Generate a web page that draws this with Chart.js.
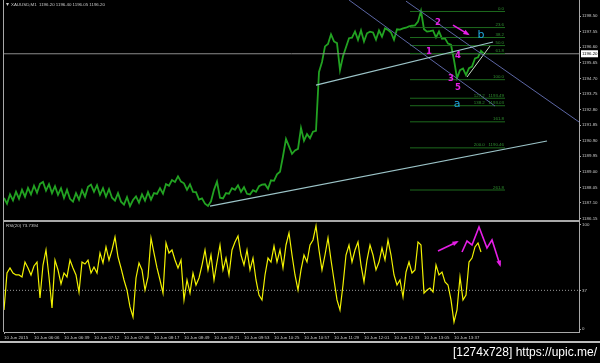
<!DOCTYPE html>
<html lang="en">
<head>
<meta charset="UTF-8">
<title>XAUUSD,M1</title>
<script src="https://cdn.jsdelivr.net/npm/chart.js"></script>
<style>
  body { margin: 0; background: #000; }
  #wrap { position: relative; width: 600px; height: 363px; overflow: hidden; background: #000; }
  #wrap canvas { position: absolute; left: 0; }
  #mainChart { top: 0; }
  #rsiChart { top: 222px; }
  .rule { position: absolute; background: #a8a8a8; }
  #stamp { position: absolute; right: 3px; top: 345px; color: #fff; font: 12px 'Liberation Sans', sans-serif; white-space: nowrap; }
</style>
</head>
<body>
<div id="wrap">
  <canvas id="mainChart" width="600" height="220"></canvas>
  <canvas id="rsiChart" width="600" height="120"></canvas>
  <div class="rule" style="left:3px;top:0;width:1px;height:332px"></div>
  <div class="rule" style="left:3px;top:220px;width:577px;height:2px"></div>
  <div class="rule" style="left:0;top:341px;width:600px;height:2px;background:#bdbdbd"></div>
  <div id="stamp">[1274x728] https://upic.me/</div>
</div>
<script>
// time axis, one label every 30 bar slots
const timeLabels = ['10 Jun 2015', '10 Jun 06:06', '10 Jun 06:39', '10 Jun 07:12', '10 Jun 07:46', '10 Jun 08:17',
  '10 Jun 08:49', '10 Jun 09:21', '10 Jun 09:53', '10 Jun 10:25', '10 Jun 10:57', '10 Jun 11:29',
  '10 Jun 12:01', '10 Jun 12:33', '10 Jun 13:05', '10 Jun 13:37'];
const timeStep = 30;

const priceTicks = [1186.15, 1187.10, 1188.05, 1189.00, 1189.95, 1190.90, 1191.85, 1192.80,
  1193.75, 1194.70, 1195.65, 1196.60, 1197.55, 1198.50];

// close price, one reading every 3 slots
const sampleStep = 3;
const closePrice = [
  1187.40, 1187.05, 1187.62, 1187.25, 1187.78, 1187.36, 1187.90, 1187.48, 1188.02, 1187.62,
  1188.15, 1187.72, 1188.26, 1188.38, 1187.85, 1188.25, 1187.70, 1188.12, 1187.60, 1188.00,
  1187.40, 1187.90, 1187.35, 1187.18, 1187.70, 1187.30, 1187.88, 1187.48, 1188.08, 1188.22,
  1187.78, 1188.18, 1187.60, 1188.00, 1187.48, 1187.95, 1187.42, 1187.24, 1187.70, 1187.18,
  1187.00, 1187.45, 1186.90, 1187.28, 1187.50, 1187.12, 1187.62, 1187.24, 1187.76, 1187.30,
  1187.70, 1187.65, 1188.00, 1187.66, 1188.25, 1188.15, 1188.50, 1188.38, 1188.72, 1188.40,
  1188.30, 1187.90, 1188.24, 1187.78, 1187.76, 1187.30, 1187.38, 1187.06, 1186.92, 1187.20,
  1187.90, 1188.40, 1187.42, 1187.38, 1187.70, 1187.66, 1188.00, 1187.90, 1188.18, 1187.78,
  1188.06, 1187.66, 1187.62, 1187.88, 1187.78, 1188.12, 1188.22, 1188.24, 1187.96, 1188.48,
  1188.45, 1188.85, 1189.00, 1189.95, 1191.00, 1190.55, 1190.10, 1190.30, 1190.40, 1191.67,
  1190.90, 1191.30, 1191.05, 1191.45, 1191.50, 1195.09, 1195.70, 1196.65, 1196.80, 1197.38,
  1196.95, 1196.85, 1195.21, 1196.05, 1196.60, 1197.15, 1197.18, 1197.56, 1197.05, 1197.62,
  1196.95, 1197.45, 1197.55, 1197.50, 1197.06, 1197.62, 1197.24, 1197.75, 1197.66, 1197.50,
  1197.06, 1197.69, 1197.67, 1197.75, 1197.79, 1197.87, 1197.91, 1197.93, 1198.16, 1198.81,
  1197.70, 1197.55, 1197.58, 1197.62, 1197.20, 1197.56, 1197.12, 1197.14, 1196.82, 1196.75,
  1195.82, 1194.72, 1195.20, 1195.30, 1194.90, 1195.32, 1195.42, 1195.92, 1195.98, 1196.38,
  1196.20
];
const lastPrice = 1196.20;

const rsiValues = [
  18.2, 53.6, 58.4, 53.6, 51.7, 51.7, 49.8, 64.1, 58.4, 51.7,
  60.3, 64.1, 29.7, 61.2, 75.6, 49.8, 20.1, 66.0, 56.5, 43.1,
  53.6, 49.8, 66.0, 58.4, 51.7, 35.4, 64.1, 62.2, 66.0, 53.6,
  59.3, 53.6, 72.7, 63.2, 78.5, 66.0, 75.6, 88.0, 68.9, 58.4,
  46.9, 37.3, 21.1, 11.5, 48.8, 63.2, 56.5, 37.3, 49.8, 87.1,
  72.7, 58.4, 46.9, 34.4, 82.3, 72.7, 75.6, 66.0, 58.4, 66.0,
  27.8, 46.9, 34.4, 53.6, 42.1, 48.8, 61.2, 75.6, 56.5, 70.8,
  46.9, 64.1, 80.4, 56.5, 67.9, 51.7, 75.6, 83.3, 89.0, 70.8,
  61.2, 75.6, 56.5, 67.9, 46.9, 32.5, 27.8, 51.7, 67.9, 64.1,
  79.4, 64.1, 75.6, 58.4, 80.4, 91.9, 70.8, 51.7, 37.3, 56.5,
  70.8, 64.1, 80.4, 85.2, 98.6, 75.6, 56.5, 70.8, 87.1, 66.0,
  46.9, 27.8, 18.2, 42.1, 70.8, 80.4, 64.1, 75.6, 83.3, 61.2,
  45.0, 66.0, 80.4, 70.8, 56.5, 64.1, 77.5, 66.0, 85.2, 70.8,
  51.7, 42.1, 46.9, 30.6, 54.5, 64.1, 53.6, 56.5, 83.3, 80.4,
  34.4, 37.3, 39.2, 35.4, 61.2, 51.7, 54.5, 45.0, 42.1, 27.8,
  6.7, 18.2, 49.8, 27.8, 32.5, 64.1, 67.9, 78.5, 82.3, 73.7
];
const rsiTicks = [0, 37, 100];
const rsiLevel = 37;
const rsiLast = 73.7394;

// fibonacci expansion
const fibHigh = 1198.78;
const fibLow = 1194.62;
const fibLevels = [0, 23.6, 38.2, 50, 61.8, 100, 127.2, 138.2, 161.8, 200, 261.8];
const fibPriced = [127.2, 138.2, 200];
const fibSpan = [406, 501];

// drawn objects, [slot, price]
const supportLine = [[206, 1186.91], [543, 1190.88]];
const neckLine = [[312, 1194.29], [489, 1196.92]];
const channelTop = [[402, 1199.41], [575, 1192.04]];
const channelBottom = [[345, 1199.48], [491, 1193.01]];
const waveFive = [[463, 1194.78], [486, 1196.67]];
const waveLabels = [['1', 425, 1196.31], ['2', 434, 1198.07], ['3', 447, 1194.66], ['4', 454, 1196.06], ['5', 454, 1194.11]];
const abLabels = [['a', 453, 1193.13], ['b', 477, 1197.34]];
const priceArrow = [[449, 1197.95], [464, 1197.40]];
const rsiArrow = [[434, 74.6], [453, 83.3]];
const rsiZigzag = [[458, 73.7], [463, 84.2], [468, 80.4], [475, 97.6], [483, 77.5], [488, 85.2], [496, 61.2]];

const SLOTS = 575;
const GRAY = '#a8a8a8';
const TEXT = '#c8c8c8';
const MAGENTA = '#e61ee6';
const tiny = { family: 'Liberation Sans', size: 4.4 };

function pts(pairs) { return pairs.map(([x, y]) => ({ x, y })); }
function seg(pairs, color, width, extra) {
  return Object.assign({ data: pts(pairs), borderColor: color, borderWidth: width, pointRadius: 0, order: 0 }, extra || {});
}
function fibPrice(l) { return fibHigh - (fibHigh - fibLow) * l / 100; }

function arrow(ctx, xs, ys, pairs, color) {
  const p = pairs.map(([a, b]) => [xs.getPixelForValue(a), ys.getPixelForValue(b)]);
  ctx.strokeStyle = color; ctx.fillStyle = color; ctx.lineWidth = 1.6;
  ctx.beginPath();
  p.forEach(([a, b], i) => i ? ctx.lineTo(a, b) : ctx.moveTo(a, b));
  ctx.stroke();
  const [x1, y1] = p[p.length - 2], [x2, y2] = p[p.length - 1];
  const ang = Math.atan2(y2 - y1, x2 - x1);
  ctx.beginPath();
  ctx.moveTo(x2 + Math.cos(ang) * 2, y2 + Math.sin(ang) * 2);
  ctx.lineTo(x2 - Math.cos(ang - 0.5) * 5, y2 - Math.sin(ang - 0.5) * 5);
  ctx.lineTo(x2 - Math.cos(ang + 0.5) * 5, y2 - Math.sin(ang + 0.5) * 5);
  ctx.closePath();
  ctx.fill();
}

const mainOverlay = {
  id: 'mainOverlay',
  afterDraw(chart) {
    const { ctx, chartArea, scales: { x, y } } = chart;
    ctx.save();
    ctx.font = '4.4px "Liberation Sans"';
    ctx.fillStyle = '#2f8f2f'; ctx.textAlign = 'right'; ctx.textBaseline = 'bottom';
    fibLevels.forEach(l => {
      const p = fibPrice(l);
      const txt = l.toFixed(1) + (fibPriced.includes(l) ? '   ' + p.toFixed(2) : '');
      ctx.fillText(txt, x.getPixelForValue(fibSpan[1]) - 1, y.getPixelForValue(p) - 0.5);
    });

    ctx.textAlign = 'center'; ctx.textBaseline = 'middle';
    ctx.font = 'bold 8.5px "DejaVu Sans"'; ctx.fillStyle = MAGENTA;
    waveLabels.forEach(([t, a, b]) => ctx.fillText(t, x.getPixelForValue(a), y.getPixelForValue(b)));
    ctx.font = '11px "DejaVu Sans"'; ctx.fillStyle = '#1fa6dc';
    abLabels.forEach(([t, a, b]) => ctx.fillText(t, x.getPixelForValue(a), y.getPixelForValue(b)));
    arrow(ctx, x, y, priceArrow, MAGENTA);

    const py = y.getPixelForValue(lastPrice);
    ctx.fillStyle = '#fff';
    ctx.fillRect(chartArea.right + 2, py - 3.5, 17, 7);
    ctx.fillStyle = '#000'; ctx.font = '4.4px "Liberation Sans"'; ctx.textAlign = 'left';
    ctx.fillText(lastPrice.toFixed(2), chartArea.right + 3, py);

    ctx.fillStyle = TEXT; ctx.textBaseline = 'middle';
    ctx.fillText('XAUUSD,M1  1196.20 1196.40 1196.05 ' + lastPrice.toFixed(2), 11, 4.5);
    ctx.beginPath(); ctx.moveTo(6, 3); ctx.lineTo(9, 3); ctx.lineTo(7.5, 6); ctx.closePath(); ctx.fill();
    ctx.restore();
  }
};

const rsiOverlay = {
  id: 'rsiOverlay',
  afterDraw(chart) {
    const { ctx, scales: { x, y } } = chart;
    ctx.save();
    ctx.font = '4.4px "Liberation Sans"'; ctx.fillStyle = TEXT; ctx.textBaseline = 'middle';
    ctx.fillText('RSI(20) ' + rsiLast.toFixed(4), 6, 4);
    arrow(ctx, x, y, rsiArrow, MAGENTA);
    arrow(ctx, x, y, rsiZigzag, MAGENTA);
    ctx.restore();
  }
};

const baseX = { type: 'linear', min: 0, max: SLOTS };

new Chart(document.getElementById('mainChart'), {
  type: 'line',
  data: {
    datasets: [
      { data: closePrice.map((p, i) => ({ x: i * sampleStep, y: p })), borderColor: '#22a222', borderWidth: 1.8, pointRadius: 0, order: 10 },
      ...fibLevels.map(l => seg([[fibSpan[0], fibPrice(l)], [fibSpan[1], fibPrice(l)]], '#1d6a1d', 1, { order: 5 })),
      seg([[0, lastPrice], [SLOTS, lastPrice]], '#8c8c8c', 1, { order: 6 }),
      seg(supportLine, '#9cc4c8', 1.2),
      seg(neckLine, '#9cc4c8', 1.2),
      seg(channelTop, '#5c66a4', 1),
      seg(channelBottom, '#5c66a4', 1),
      seg(waveFive, '#c8dcc8', 1)
    ]
  },
  options: {
    responsive: false, animation: false, devicePixelRatio: 1,
    layout: { padding: { left: 4, top: 0, right: 0, bottom: 0 } },
    plugins: { legend: { display: false }, tooltip: { enabled: false } },
    scales: {
      x: Object.assign({ display: false }, baseX),
      y: {
        position: 'right', min: 1186.06, max: 1199.48,
        afterBuildTicks: s => { s.ticks = priceTicks.map(v => ({ value: v })); },
        afterFit: s => { s.width = 21; s.paddingTop = 0; s.paddingBottom = 0; },
        grid: { drawOnChartArea: false, tickLength: 2, color: GRAY },
        border: { color: GRAY },
        ticks: { color: TEXT, font: tiny, padding: 1, callback: v => v.toFixed(2) }
      }
    }
  },
  plugins: [mainOverlay]
});

new Chart(document.getElementById('rsiChart'), {
  type: 'line',
  data: {
    datasets: [
      { data: rsiValues.map((v, i) => ({ x: i * sampleStep, y: v })), borderColor: '#f2f200', borderWidth: 1.2, pointRadius: 0, order: 10 },
      seg([[0, rsiLevel], [SLOTS, rsiLevel]], '#9a9a9a', 1, { borderDash: [1, 2], order: 11 })
    ]
  },
  options: {
    responsive: false, animation: false, devicePixelRatio: 1,
    layout: { padding: { left: 4, top: 0, right: 0, bottom: 0 } },
    plugins: { legend: { display: false }, tooltip: { enabled: false } },
    scales: {
      x: Object.assign({
        afterBuildTicks: s => { s.ticks = timeLabels.map((_, i) => ({ value: i * timeStep })); },
        afterFit: s => { s.height = 10; s.paddingLeft = 0; s.paddingRight = 0; },
        grid: { drawOnChartArea: false, tickLength: 2, color: GRAY },
        border: { color: GRAY },
        ticks: { color: TEXT, font: tiny, padding: 1, align: 'start', maxRotation: 0, minRotation: 0, autoSkip: false,
          callback: (v, i) => timeLabels[i] }
      }, baseX),
      y: {
        position: 'right', min: -2.87, max: 102.39,
        afterBuildTicks: s => { s.ticks = rsiTicks.map(v => ({ value: v })); },
        afterFit: s => { s.width = 21; s.paddingTop = 0; s.paddingBottom = 0; },
        grid: { drawOnChartArea: false, tickLength: 2, color: GRAY },
        border: { color: GRAY },
        ticks: { color: TEXT, font: tiny, padding: 1 }
      }
    }
  },
  plugins: [rsiOverlay]
});
</script>
</body>
</html>
